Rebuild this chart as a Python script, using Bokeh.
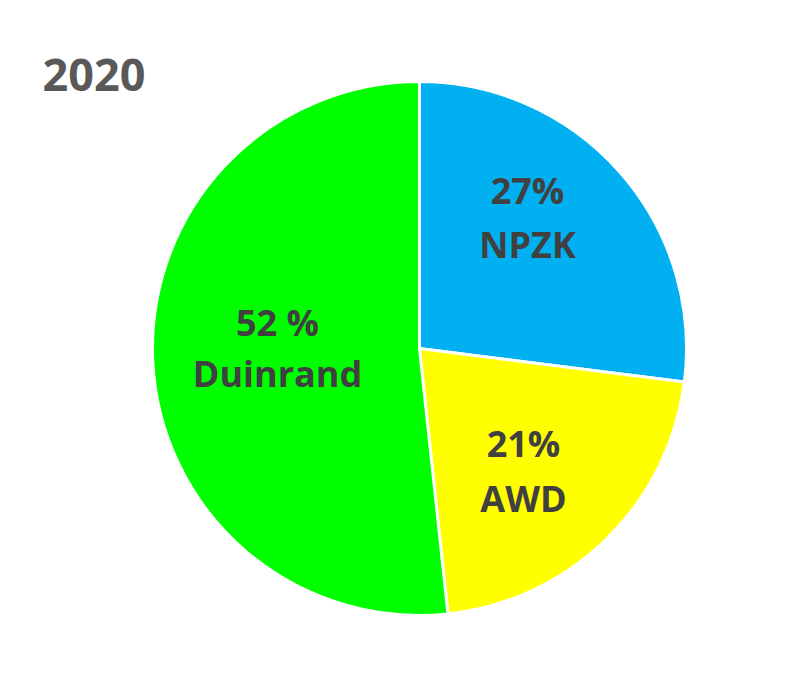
import math
from bokeh.plotting import figure
from bokeh.models import Range1d, ColumnDataSource
from bokeh.core.properties import value
from bokeh.embed import file_html
from bokeh.resources import INLINE

# ---- data ----
title_text = "2020"
categories = ["NPZK", "AWD", "Duinrand"]
shares = [27.0, 21.3, 51.7]
pct_labels = ["27%", "21%", "52 %"]
colors = ["#00B0F0", "#FFFF00", "#00FF00"]

# ---- layout (pixels) ----
W, H = 786, 668
cx, cy, R = 419, 320, 267
# label centres for each slice (x, percentage line y, name line y)
label_pos = [(527, 478, 424), (523, 225, 170), (277, 346, 295)]

p = figure(width=W, height=H, output_backend="svg", toolbar_location=None,
           x_range=Range1d(0, W), y_range=Range1d(0, H), min_border=0)
p.axis.visible = False
p.grid.visible = False
p.outline_line_color = None
p.background_fill_color = "white"
p.border_fill_color = "white"

total = float(sum(shares))
starts, ends = [], []
cum = 0.0
for s in shares:
    starts.append(math.pi / 2 - 2 * math.pi * cum / total)
    cum += s
    ends.append(math.pi / 2 - 2 * math.pi * cum / total)

src = ColumnDataSource(dict(start=starts, end=ends, color=colors,
                            x=[cx] * 3, y=[cy] * 3))
p.wedge(x="x", y="y", radius=R, start_angle="start", end_angle="end",
        direction="clock", fill_color="color", line_color="white",
        line_width=3, source=src)

lx = [lp[0] for lp in label_pos]
p.text(x=lx, y=[lp[1] for lp in label_pos], text=pct_labels,
       text_font=value("Open Sans"), text_font_style="bold",
       text_font_size="36px", text_color="#404040",
       text_align="center", text_baseline="middle")
p.text(x=lx, y=[lp[2] for lp in label_pos], text=categories,
       text_font=value("Open Sans"), text_font_style="bold",
       text_font_size="36px", text_color="#404040",
       text_align="center", text_baseline="middle")

p.text(x=[42], y=[594], text=[title_text],
       text_font=value("Open Sans"), text_font_style="bold",
       text_font_size="45px", text_color="#595959",
       text_align="left", text_baseline="middle")

open("out.html", "w").write(file_html(p, INLINE))
